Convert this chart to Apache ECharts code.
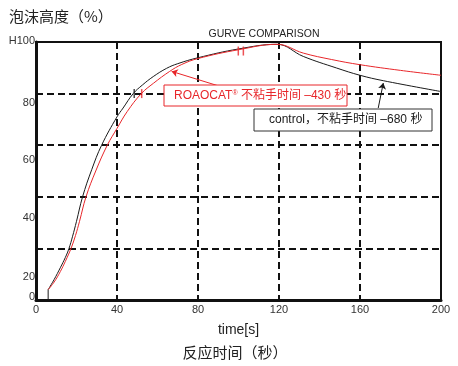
<!DOCTYPE html>
<html><head><meta charset="utf-8">
<script src="https://cdn.jsdelivr.net/npm/echarts@6/dist/echarts.min.js"></script>
<style>html,body{margin:0;padding:0;background:#fff}#c{width:458px;height:366px}</style>
</head><body><div id="c"></div>
<script>
// ---- data ----
var controlT   = [6, 9, 12, 14.5, 16.3, 18, 20, 23, 27.5, 32.4, 40, 43, 48, 52.5, 57.9, 64.5, 70, 80, 100, 119, 132, 148.5, 160, 171.5, 200];
var controlVal = [4, 8, 12.5, 16.5, 20, 24.5, 30.5, 40, 50.5, 60, 71, 74.4, 80, 83.3, 86.6, 89.8, 91.6, 93.9, 97.3, 99.1, 94.4, 89.9, 87.1, 85, 80.8];
var roaT   = [6, 9, 12, 14.5, 17.3, 19.5, 21.5, 24.7, 29.5, 35.2, 40, 45, 52, 58, 66, 72, 80, 100, 119, 132, 146, 160, 180, 200];
var roaVal = [4, 7, 11, 15, 20, 25, 30.5, 40, 50, 60, 66.5, 73, 80, 84, 88.6, 91.3, 93.6, 97, 99.1, 95.7, 93.2, 91.2, 89, 87.1];
var startT = [6, 6];
var startVal = [0, 4];
var controlMarkT = [48.5], controlMarkVal = [80];
var roaMarkT = [52.2, 99.9, 102.4], roaMarkVal = [80, 96.5, 96.5];
var xTicks = [0, 40, 80, 120, 160, 200];
var yTickLabels = ['H100', '80', '60', '40', '20', '0'];
var titleText = 'GURVE COMPARISON';
var yName = '泡沫高度（%）';
var xName = 'time[s]';
var xName2 = '反应时间（秒）';
var roaLabel = ['ROAOCAT', '®', ' 不粘手时间 –430 秒'];
var controlLabel = 'control，不粘手时间 –680 秒';

function pairs(a, b) { return a.map(function (v, i) { return [v, b[i]]; }); }

var RED = '#e8262a', BLK = '#1a1a1a';
var FONT = '"Liberation Sans", Arial, "Noto Sans CJK SC", sans-serif';
var chart = echarts.init(document.getElementById('c'));

var yLabelPos = [41, 102.7, 160, 217.7, 276.7, 296.7];
var graphics = yTickLabels.map(function (t, i) {
  return { type: 'text', x: 35, y: yLabelPos[i], z: 100,
    style: { text: t, fill: '#333', font: '11px ' + FONT, textAlign: 'right', textVerticalAlign: 'middle' } };
});
// red annotation box
graphics.push({ type: 'rect', x: 164, y: 85, z: 100,
  shape: { width: 183, height: 21 }, style: { fill: '#fff', stroke: RED, lineWidth: 1 } });
graphics.push({ type: 'text', x: 174, y: 96, z: 101,
  style: { rich: { a: { fill: RED, font: '12px ' + FONT }, s: { fill: RED, font: '7px ' + FONT, verticalAlign: 'top' } },
    text: '{a|' + roaLabel[0] + '}{s|' + roaLabel[1] + '}{a|' + roaLabel[2] + '}', textVerticalAlign: 'middle' } });
// black annotation box
graphics.push({ type: 'rect', x: 254, y: 109, z: 100,
  shape: { width: 178, height: 22 }, style: { fill: '#fff', stroke: '#333', lineWidth: 1 } });
graphics.push({ type: 'text', x: 269, y: 120, z: 101,
  style: { text: controlLabel, fill: BLK, font: '12px ' + FONT, textVerticalAlign: 'middle' } });
graphics.push({ type: 'text', x: 235, y: 352, z: 100,
  style: { text: xName2, fill: '#222', font: '15px "Noto Sans CJK SC", sans-serif', textAlign: 'center', textVerticalAlign: 'middle' } });

chart.setOption({
  animation: false,
  textStyle: { fontFamily: FONT },
  title: [
    { text: titleText, left: 259, top: 24, textAlign: 'center',
      textStyle: { fontSize: 10.5, fontWeight: 'normal', color: '#222', fontFamily: FONT } },
    { text: yName, left: 4, top: 4,
      textStyle: { fontSize: 15, fontWeight: 'normal', color: '#222', fontFamily: '"Noto Sans CJK SC", sans-serif' } }
  ],
  grid: { left: 36, right: 17, top: 42, bottom: 66, show: true, borderColor: '#111', borderWidth: 2, backgroundColor: 'transparent' },
  xAxis: {
    type: 'value', min: 0, max: 200, interval: 40,
    name: xName, nameLocation: 'middle', nameGap: 23,
    nameTextStyle: { fontSize: 14, color: '#222', fontFamily: FONT },
    axisLine: { show: true, lineStyle: { color: '#111', width: 3 } },
    axisTick: { show: false },
    axisLabel: { color: '#333', fontSize: 11, margin: 4, fontFamily: FONT,
      formatter: function (v) { return xTicks.indexOf(v) >= 0 ? String(v) : ''; } },
    splitLine: { show: true, lineStyle: { color: '#111', width: 2, type: [7, 4] } }
  },
  yAxis: {
    type: 'value', min: 0, max: 100, interval: 20,
    axisLine: { show: true, lineStyle: { color: '#111', width: 3 } },
    axisTick: { show: false },
    axisLabel: { show: false },
    splitLine: { show: true, lineStyle: { color: '#111', width: 2, type: [7, 4] } }
  },
  graphic: graphics,
  series: [
    { type: 'line', data: pairs(startT, startVal), symbol: 'none', lineStyle: { color: BLK, width: 1 }, z: 5 },
    { type: 'line', data: pairs(controlT, controlVal), symbol: 'none', smooth: 0.4,
      lineStyle: { color: BLK, width: 1 }, z: 5,
      markLine: { silent: true, symbol: ['none', 'arrow'], symbolSize: 6, label: { show: false },
        lineStyle: { color: BLK, width: 1, type: 'solid' },
        data: [[{ coord: [169, 74.4] }, { coord: [171.5, 84.1] }]] } },
    { type: 'line', data: pairs(roaT, roaVal), symbol: 'none', smooth: 0.4,
      lineStyle: { color: RED, width: 1 }, z: 6,
      markLine: { silent: true, symbol: ['none', 'arrow'], symbolSize: 6, label: { show: false },
        lineStyle: { color: RED, width: 1, type: 'solid' },
        data: [[{ coord: [90.9, 82.8] }, { coord: [67, 88.6] }]] } },
    { type: 'scatter', data: pairs(controlMarkT, controlMarkVal), symbol: 'rect', symbolSize: [1.5, 9],
      itemStyle: { color: BLK }, z: 7 },
    { type: 'scatter', data: pairs(roaMarkT, roaMarkVal), symbol: 'rect', symbolSize: [1.5, 9],
      itemStyle: { color: RED }, z: 7 }
  ]
});
</script></body></html>
